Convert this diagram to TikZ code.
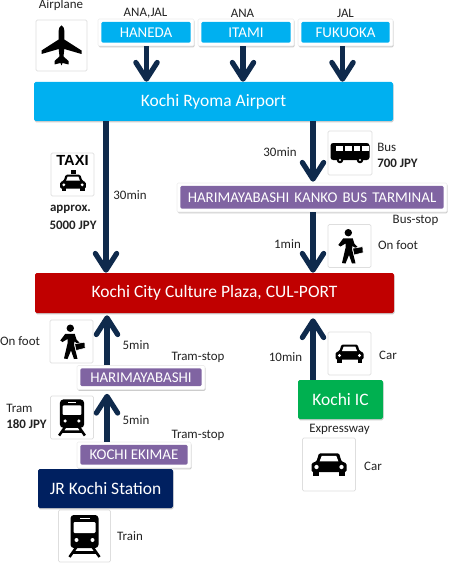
\documentclass[tikz,border=0pt]{standalone}
\usepackage{fontspec}
\setmainfont{Carlito}
\newfontfamily\taxifont{Liberation Sans}
\usetikzlibrary{arrows.meta,shadows}
\definecolor{navyarrow}{HTML}{0F2A4C}
\definecolor{skyb}{HTML}{00B0F0}
\definecolor{purp}{HTML}{8064A2}
\definecolor{redb}{HTML}{C00000}
\definecolor{navyb}{HTML}{002060}
\definecolor{greenb}{HTML}{00B050}
\definecolor{txt}{HTML}{222222}
\tikzset{
  sz/.style 2 args={minimum width=#1*0.75pt,minimum height=#2*0.75pt},
  softshadow/.style={drop shadow={shadow xshift=0.5pt,shadow yshift=-1pt,opacity=.4}},
  mainbox/.style={inner sep=0pt,rounded corners=1.2pt,text=white,font=\fontsize{13.1}{15}\selectfont,softshadow},
  framed/.style={inner sep=0pt,fill=white,draw=black!7,line width=.4pt,rounded corners=1pt,text=white,font=\fontsize{11.2}{13}\selectfont,softshadow,
    path picture={\fill[#1] ([shift={(2.5pt,-2.2pt)}]path picture bounding box.north west) rectangle ([shift={(-2.5pt,2.6pt)}]path picture bounding box.south east);}},
  iconbox/.style={inner sep=0pt,rounded corners=1pt,draw=black!13,line width=.6pt,fill=white},
  lab/.style={inner sep=0pt,text=txt,font=\fontsize{9.7}{11}\selectfont},
  blab/.style={lab,font=\fontsize{9.7}{11}\selectfont\bfseries},
  link/.style={draw=navyarrow,line width=3.9pt,-{Straight Barb[length=12.5pt,width=16pt,round]}},
  planeicon/.pic={\fill (0,-20) .. controls (2,-19) and (2.8,-17) .. (2.8,-15) -- (2.8,-6) -- (20,5) -- (20,8.5) -- (2.8,3.5) -- (2,11) -- (7,15.5) -- (7,19) -- (1,17.5) -- (0,20) -- (-1,17.5) -- (-7,19) -- (-7,15.5) -- (-2,11) -- (-2.8,3.5) -- (-20,8.5) -- (-20,5) -- (-2.8,-6) -- (-2.8,-15) .. controls (-2.8,-17) and (-2,-19) .. (0,-20) -- cycle;},
  caricon/.pic={
    \fill[rounded corners=1pt] (-14,6) -- (-14,-1) -- (-10,-2.5) -- (-8,-9) -- (8,-9) -- (10,-2.5) -- (14,-1) -- (14,6) -- cycle;
    \fill (-12.5,5) rectangle (-8,9); \fill (8,5) rectangle (12.5,9);
    \fill[white] (-5.8,-7) -- (5.8,-7) -- (7.5,-2.5) -- (-7.5,-2.5) -- cycle;
    \fill[white] (-10,2) circle (1.7); \fill[white] (10,2) circle (1.7);},
  busicon/.pic={
    \fill[rounded corners=2pt] (-19.5,-10) rectangle (19.5,7);
    \foreach \x in {-14,-5,3.5,12}{\fill[white] (\x,-7.5) rectangle ++(6.8,5.5);}
    \fill (-10,7) circle (3.3); \fill (10,7) circle (3.3);
    \fill[white] (-10,7) circle (1.1); \fill[white] (10,7) circle (1.1);},
  walkericon/.pic={
    \fill (-1.2,-13.3) circle (3.7);
    \fill (-6.2,-7.7) -- (3.2,-7.7) -- (5,-2) -- (8,1) -- (6.5,2.5) -- (3,0) -- (2.5,3) -- (6,17.3) -- (2.5,17.5) -- (-0.5,9) -- (-4,17.5) -- (-7.5,17) -- (-4,2) -- (-4,-2.5) -- (-9,0.5) -- (-11.2,-1) -- cycle;
    \filldraw[fill=black,draw=white,line width=.4pt] (3.2,2.3) -- (13.2,.7) -- (13.6,6.7) -- (4.5,9) -- cycle;
    },
  trainicon/.pic={
    \fill[rounded corners=2.5pt] (-14,-21) rectangle (14,12);
    \fill[white,rounded corners=.8pt] (-11,-14) rectangle (11,-3);
    \fill[white] (-5,-18.5) rectangle (5,-17);
    \fill[white] (-8,4) circle (2); \fill[white] (8,4) circle (2);
    \draw[line width=1.9pt] (-8,11) -- (-15,21) (8,11) -- (15,21) (-11,16.5) -- (11,16.5);},
}
\begin{document}
\begin{tikzpicture}[x=0.75pt,y=-0.75pt]
\useasboundingbox (0,0) rectangle (450,563);
% icon boxes
\node[iconbox,sz={51}{51}] (iplane) at (61.5,45.5) {};
\pic at (iplane.center) {planeicon};
\node[iconbox,sz={43}{43}] (itaxi) at (72.5,174.5) {};
\node[inner sep=0pt,font=\fontsize{11}{12}\taxifont\bfseries] (ttaxi) at (72.5,160.5) {TAXI};
\pic[scale=.92] at (73,183) {caricon};
\fill (70.5,170) rectangle (75.5,174);
\node[iconbox,sz={44}{44}] (ibus) at (350,153) {};
\pic at (ibus.center) {busicon};
\node[iconbox,sz={43}{43}] (iwalk) at (349.5,246) {};
\pic at (iwalk.center) {walkericon};
\node[iconbox,sz={43}{43}] (iwalk2) at (71.5,341.5) {};
\pic at (iwalk2.center) {walkericon};
\node[iconbox,sz={43}{43}] (itram) at (72,417.5) {};
\pic[scale=.86] at (itram.center) {trainicon};
\node[iconbox,sz={43}{43}] (icar) at (349.5,353.5) {};
\pic at (icar.center) {caricon};
\node[iconbox,sz={53}{53}] (icar2) at (329,464.5) {};
\pic[scale=1.25] at (icar2.center) {caricon};
\node[iconbox,sz={52}{52}] (itrain) at (84.5,536) {};
\pic at (itrain.center) {trainicon};
% stations
\node[framed=skyb,sz={96}{27}] (haneda) at (146,32.5) {HANEDA};
\node[framed=skyb,sz={96}{27}] (itami) at (246,32.5) {ITAMI};
\node[framed=skyb,sz={95}{27}] (fukuoka) at (345.5,32.5) {FUKUOKA};
\node[mainbox,fill=skyb,sz={359}{39}] (airport) at (213.5,101.5) {Kochi Ryoma Airport};
\node[framed=purp,sz={270}{29}] (busterm) at (312,197.5) {HARIMAYABASHI\hspace{.12em} KANKO\hspace{.12em} BUS\hspace{.12em} TARMINAL};
\node[mainbox,fill=redb,sz={359}{40}] (plaza) at (214.5,293) {Kochi City Culture Plaza, CUL-PORT};
\node[framed=purp,sz={128}{24}] (hari) at (141,377.5) {HARIMAYABASHI};
\node[framed=purp,sz={114}{26}] (ekimae) at (134,455) {KOCHI EKIMAE};
\node[mainbox,fill=navyb,sz={135}{39}] (jr) at (105.5,488.5) {JR Kochi Station};
\node[mainbox,fill=greenb,sz={85}{39}] (ic) at (340.5,399.5) {Kochi IC};
% connectors
\coordinate (xa) at (146.5,0);
\coordinate (xb) at (243,0);
\coordinate (xc) at (342.5,0);
\coordinate (xd) at (106,0);
\coordinate (xe) at (313,0);
\coordinate (xf) at (107,0);
\draw[link] (xa |- haneda.south) -- (xa |- airport.north);
\draw[link] (xb |- itami.south) -- (xb |- airport.north);
\draw[link] (xc |- fukuoka.south) -- (xc |- airport.north);
\draw[link] (xd |- airport.south) -- (xd |- plaza.north);
\draw[link] (xe |- airport.south) -- ([yshift=.75pt]xe |- busterm.north);
\draw[link] (xe |- busterm.south) -- (xe |- plaza.north);
\draw[link] (xf |- hari.north) -- ([yshift=-1.5pt]xf |- plaza.south);
\draw[link] (xf |- ekimae.north) -- ([yshift=-3pt]xf |- hari.south);
\draw[link] (xe |- ic.north) -- ([yshift=-3.75pt]xe |- plaza.south);
% labels
\node[lab] (l1) at (61,5.5) {Airplane};
\node[lab] (l2) at (145.5,13.5) {ANA,JAL};
\node[lab] (l3) at (242.5,13.5) {ANA};
\node[lab] (l4) at (345.5,13.5) {JAL};
\node[lab] (l5) at (130,195) {30min};
\node[blab] (l6) at (70.5,209.5) {approx.};
\node[blab] (l7) at (73,225) {5000 JPY};
\node[lab] (l8) at (280,152.5) {30min};
\node[lab,anchor=west] (l9) at (377,147) {Bus};
\node[blab,anchor=west] (l10) at (377,163) {700 JPY};
\node[lab] (l11) at (415.5,220) {Bus-stop};
\node[lab] (l12) at (287.5,244) {1min};
\node[lab] (l13) at (398,245) {On foot};
\node[lab] (l14) at (20,341.5) {On foot};
\node[lab] (l15) at (136,345) {5min};
\node[lab] (l16) at (198,357.5) {Tram-stop};
\node[lab,anchor=west] (l17) at (6,408.5) {Tram};
\node[blab,anchor=west] (l18) at (6,424.5) {180 JPY};
\node[lab] (l19) at (136,420) {5min};
\node[lab] (l20) at (198,435) {Tram-stop};
\node[lab] (l21) at (285.5,357.5) {10min};
\node[lab] (l22) at (388,355) {Car};
\node[lab] (l23) at (339.5,429) {Expressway};
\node[lab] (l24) at (373,466) {Car};
\node[lab] (l25) at (130,536.5) {Train};
\end{tikzpicture}
\end{document}
